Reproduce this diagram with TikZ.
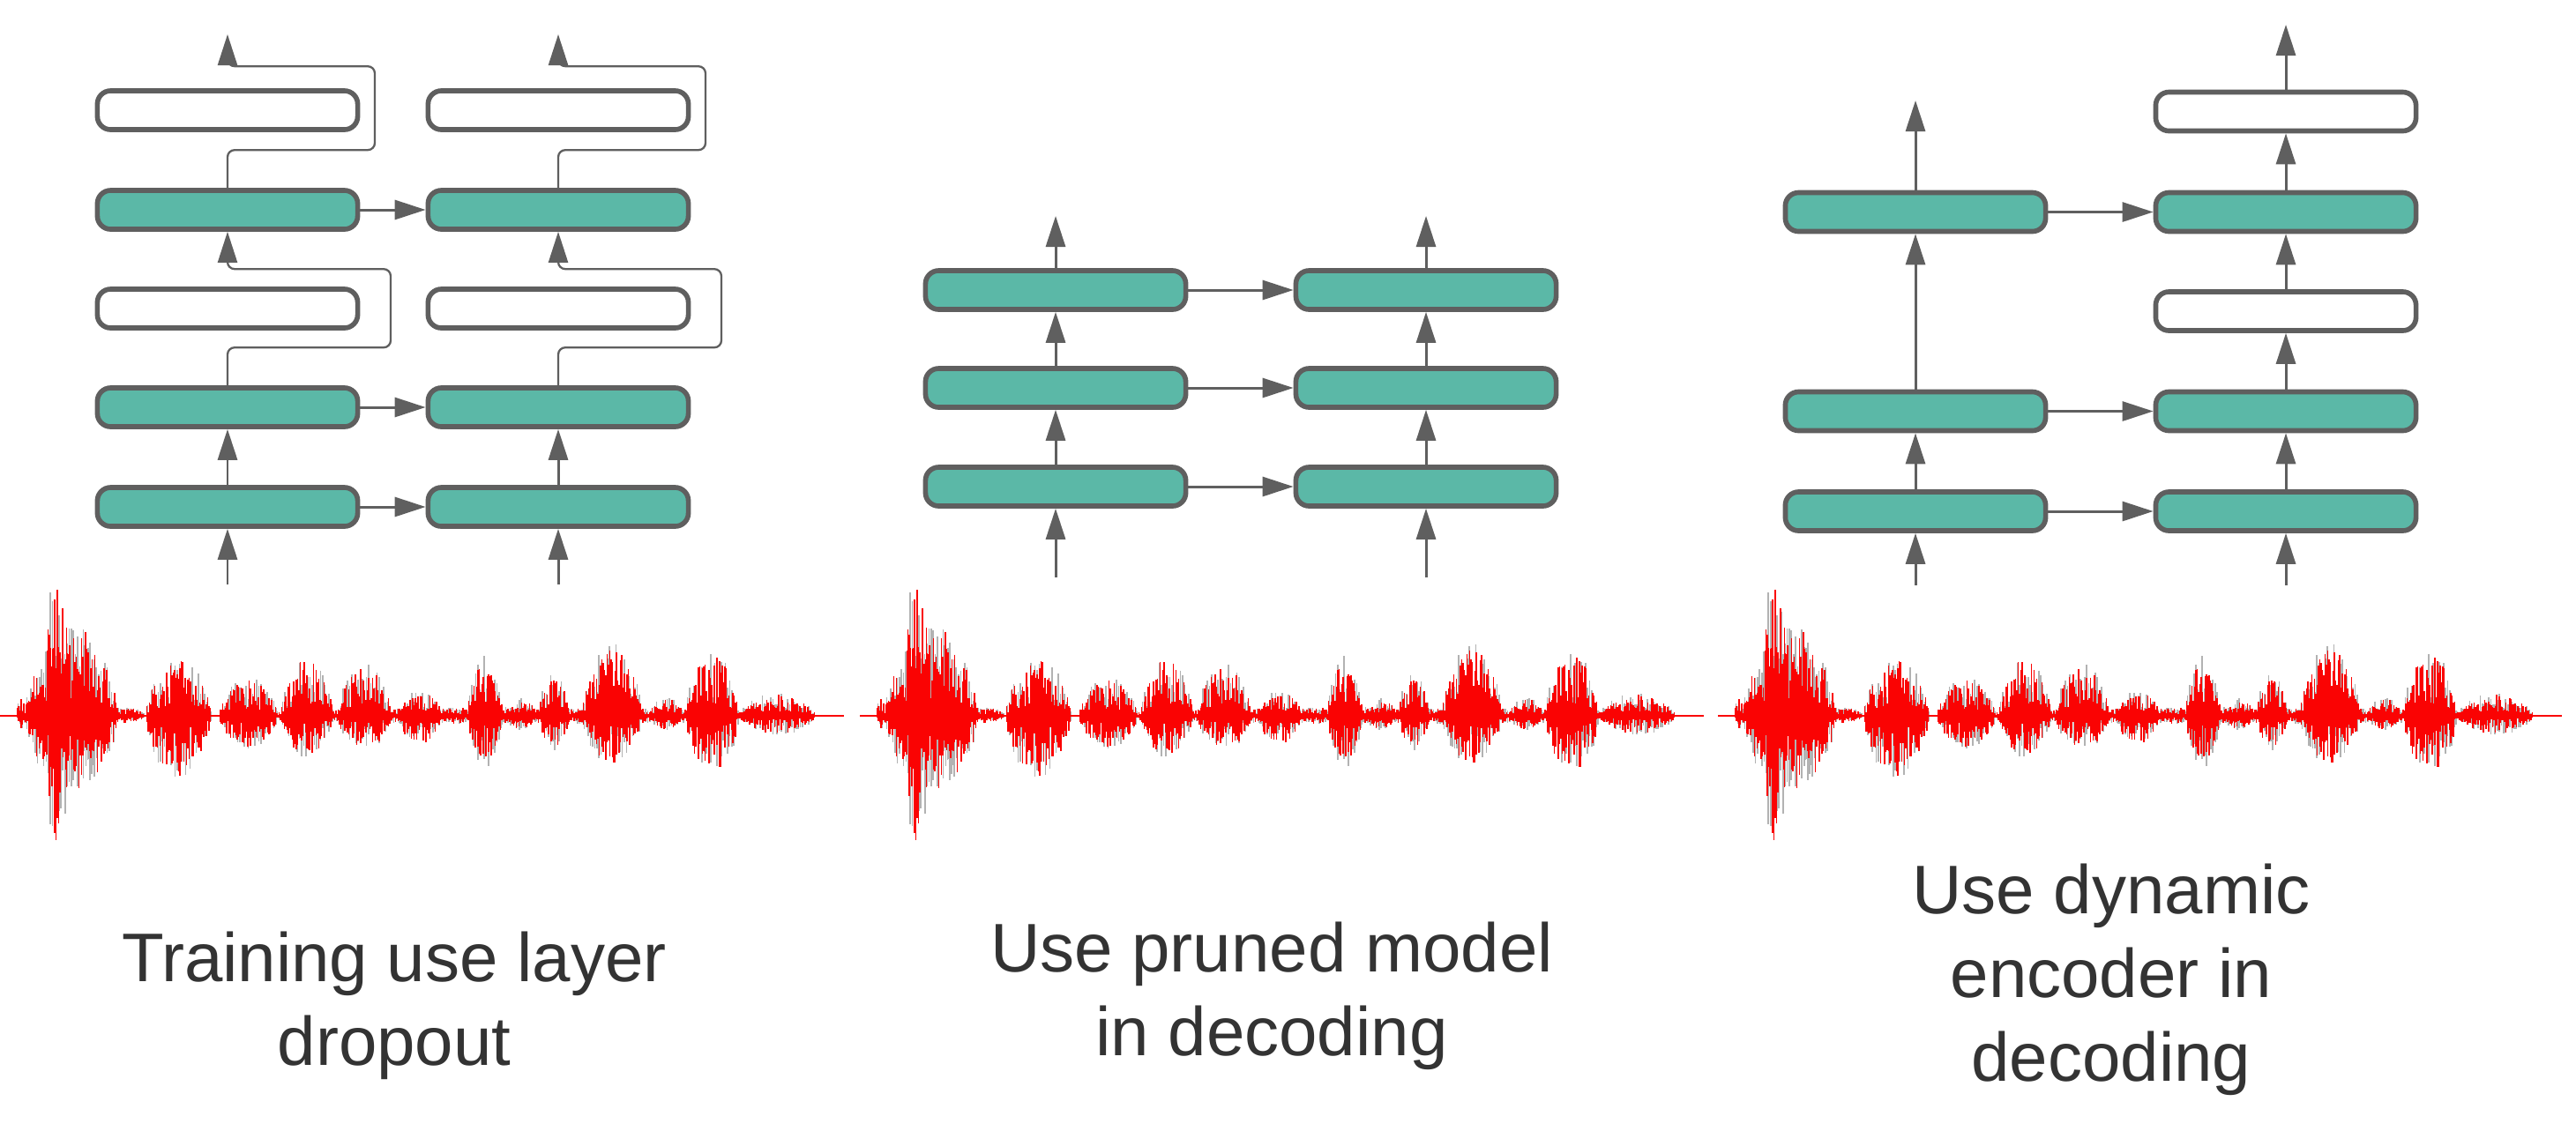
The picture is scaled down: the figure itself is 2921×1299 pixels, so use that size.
\documentclass[tikz,border=0pt]{standalone}
\usepackage{fontspec}
\setmainfont{Liberation Sans}
\usepackage{tikz}
\usetikzlibrary{arrows.meta}
\usepackage{xcolor}
\definecolor{layerteal}{HTML}{5BB8A7}
\definecolor{edgegray}{HTML}{5F5F5F}
\definecolor{captiongray}{HTML}{333333}
\definecolor{wavered}{HTML}{FA0303}

\newcommand\speechwave{%
  \pgfmathsetseed{4242}%
  \foreach \wa/\wb/\hu/\hd [evaluate=\wa as \wg using \wa+2.4] in
    {18/30/20/15,28/135/95/85,50/80/168/142,85/112/102/72,120/165/10/8,165/240/64/68,
     248/315/40/36,318/378/64/44,382/445/54/36,450/502/27/32,240/930/9/9,530/570/62/54,572/610/18/15,
     610/646/44/36,660/728/76/54,735/776/20/15,777/838/70/64,838/925/25/20}
    {\draw[wavegray] \foreach \x in {\wa,\wg,...,\wb}
      {(\x,{-\hu*abs(sin(180/(\wb-\wa)*(\x-\wa)))^0.6*(0.3+0.8*rnd)}) -- (\x,{\hd*abs(sin(180/(\wb-\wa)*(\x-\wa)))^0.6*(0.3+0.8*rnd)})};}
  \draw[wavered,line width=0.6pt] (0,0) -- (957,0);
  \foreach \wa/\wb/\hu/\hd [evaluate=\wa as \wg using \wa+1.5] in
    {18/30/20/15,28/135/95/85,50/80/168/142,85/112/102/72,120/165/10/8,165/240/64/68,
     248/315/40/36,318/378/64/44,382/445/54/36,450/502/27/32,240/930/9/9,530/570/62/54,572/610/18/15,
     610/646/44/36,660/728/76/54,735/776/20/15,777/838/70/64,838/925/25/20}
    {\draw[wavered,line width=0.5pt] \foreach \x in {\wa,\wg,...,\wb}
      {(\x,{-\hu*abs(sin(180/(\wb-\wa)*(\x-\wa)))^0.6*(0.2+0.8*rnd)}) -- (\x,{\hd*abs(sin(180/(\wb-\wa)*(\x-\wa)))^0.6*(0.2+0.8*rnd)})};}
}

\begin{document}
\begin{tikzpicture}[x=0.01cm,y=-0.01cm,>={Triangle[length=0.35cm,width=0.22cm]},
  layer/.style={draw=edgegray,line width=1.6pt,rounded corners=0.15cm,minimum width=2.95cm,
    minimum height=0.44cm,inner sep=0pt,fill=layerteal},
  dropped/.style={layer,fill=white},
  flow/.style={draw=edgegray,line width=0.85pt,->},
  skip/.style={draw=edgegray,line width=0.65pt,rounded corners=0.08cm,->},
  wavegray/.style={draw=gray!60,line width=0.5pt},
  caption/.style={align=center,inner sep=0pt,text=captiongray,font=\fontsize{22.2pt}{27pt}\selectfont}]
\fill[white] (0,0) rectangle (2921,1299);
\useasboundingbox (0,0) rectangle (2921,1299);

% layer dropout during training
\node[layer] (la1) at (258,575) {};
\node[layer] (la2) at (258,462) {};
\node[dropped] (la3) at (258,350) {};
\node[layer] (la4) at (258,238) {};
\node[dropped] (la5) at (258,125) {};
\node[layer] (lb1) at (633,575) {};
\node[layer] (lb2) at (633,462) {};
\node[dropped] (lb3) at (633,350) {};
\node[layer] (lb4) at (633,238) {};
\node[dropped] (lb5) at (633,125) {};
\coordinate (inLA) at (258,663);
\coordinate (inLB) at (633,663);
\coordinate (outLA) at (258,39);
\coordinate (outLB) at (633,39);
\draw[flow] (inLA) -- (la1);
\draw[flow] (la1) -- (la2);
\draw[skip] (la2.north) -- ++(0,-43) -| ++(185,-89) -| (la4.south);
\draw[skip] (la4.north) -- ++(0,-43) -| ++(167,-95) -| (outLA);
\draw[flow] (inLB) -- (lb1);
\draw[flow] (lb1) -- (lb2);
\draw[skip] (lb2.north) -- ++(0,-43) -| ++(185,-89) -| (lb4.south);
\draw[skip] (lb4.north) -- ++(0,-43) -| ++(167,-95) -| (outLB);
\draw[flow] (la1) -- (lb1);
\draw[flow] (la2) -- (lb2);
\draw[flow] (la4) -- (lb4);

% pruned model
\node[layer] (ma1) at (1197,552) {};
\node[layer] (ma2) at (1197,440) {};
\node[layer] (ma3) at (1197,329) {};
\node[layer] (mb1) at (1617,552) {};
\node[layer] (mb2) at (1617,440) {};
\node[layer] (mb3) at (1617,329) {};
\coordinate (inMA) at (1197,655);
\coordinate (inMB) at (1617,655);
\coordinate (outMA) at (1197,245);
\coordinate (outMB) at (1617,245);
\draw[flow] (inMA) -- (ma1);
\draw[flow] (ma1) -- (ma2);
\draw[flow] (ma2) -- (ma3);
\draw[flow] (ma3) -- (outMA);
\draw[flow] (inMB) -- (mb1);
\draw[flow] (mb1) -- (mb2);
\draw[flow] (mb2) -- (mb3);
\draw[flow] (mb3) -- (outMB);
\draw[flow] (ma1) -- (mb1);
\draw[flow] (ma2) -- (mb2);
\draw[flow] (ma3) -- (mb3);

% dynamic encoder
\node[layer] (ra1) at (2172,580) {};
\node[layer] (ra2) at (2172,466.5) {};
\node[layer] (ra4) at (2172,240.5) {};
\node[layer] (rb1) at (2592,580) {};
\node[layer] (rb2) at (2592,466.5) {};
\node[dropped] (rb3) at (2592,353) {};
\node[layer] (rb4) at (2592,240.5) {};
\node[dropped] (rb5) at (2592,126.5) {};
\coordinate (inRA) at (2172,664);
\coordinate (inRB) at (2592,664);
\coordinate (outRA) at (2172,114);
\coordinate (outRB) at (2592,28);
\draw[flow] (inRA) -- (ra1);
\draw[flow] (ra1) -- (ra2);
\draw[flow] (ra2) -- (ra4);
\draw[flow] (ra4) -- (outRA);
\draw[flow] (inRB) -- (rb1);
\draw[flow] (rb1) -- (rb2);
\draw[flow] (rb2) -- (rb3);
\draw[flow] (rb3) -- (rb4);
\draw[flow] (rb4) -- (rb5);
\draw[flow] (rb5) -- (outRB);
\draw[flow] (ra1) -- (rb1);
\draw[flow] (ra2) -- (rb2);
\draw[flow] (ra4) -- (rb4);

% speech input
\begin{scope}[shift={(0,812)}]\speechwave\end{scope}
\begin{scope}[shift={(975,812)}]\speechwave\end{scope}
\begin{scope}[shift={(1948,812)}]\speechwave\end{scope}

\node[caption,anchor=north] (capL) at (447,1056) {Training use layer\\dropout};
\node[caption,anchor=north] (capM) at (1442,1045) {Use pruned model\\in decoding};
\node[caption,anchor=north] (capR) at (2394,979) {Use dynamic\\encoder in\\decoding};
\end{tikzpicture}
\end{document}
